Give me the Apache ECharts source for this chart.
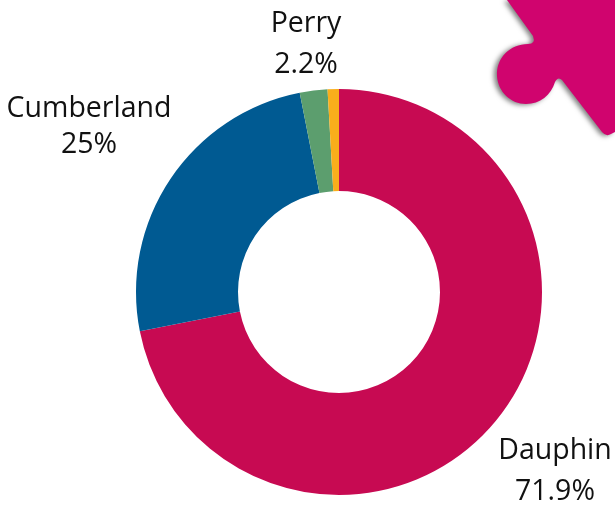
<!DOCTYPE html>
<html>
<head>
<meta charset="utf-8">
<style>
  html, body { margin: 0; padding: 0; background: #fff; }
  #chart { width: 615px; height: 506px; }
</style>
<script src="https://cdn.jsdelivr.net/npm/echarts@6/dist/echarts.min.js"></script>
</head>
<body>
<div id="chart"></div>
<script>
// clockwise from 12 o'clock
const counties = ["Dauphin", "Cumberland", "Perry", "Other"];
const shares = [71.9, 25, 2.2, 0.9];
const colors = ["#C70A52", "#005A92", "#5C9E6E", "#F9AE1B"];
const labelSpots = [[555, 471], [89, 127], [306, 44], null];
const labelLineHeights = [41, 36, 41, 41];

// corner of the puzzle piece decoration
echarts.graphic.registerShape(
  "puzzleCorner",
  echarts.graphic.extendPath(
    "M507 0 L533 36 Q536 44 528 44 C510 44 496 58 497 76 C498 92 511 104 526 104 C540 104 551 95 555 82 Q558 76 562 80 L602 132 Q606 137 611 134 L615 132 L615 0 Z"
  )
);

let myChart = echarts.init(document.getElementById("chart"));

let option = {
  animation: false,
  graphic: {
    elements: [
      {
        type: "puzzleCorner",
        z: 1,
        style: {
          fill: "#D0046E",
          shadowColor: "rgba(0,0,0,0.5)",
          shadowBlur: 5,
          shadowOffsetX: -3,
          shadowOffsetY: 1,
        },
      },
    ],
  },
  series: [
    {
      type: "pie",
      center: [339, 292],
      radius: [101, 203],
      startAngle: 90,
      clockwise: true,
      silent: true,
      z: 2,
      data: counties.map((name, i) => ({
        name: name,
        value: shares[i],
        itemStyle: { color: colors[i] },
        label: { show: labelSpots[i] !== null, lineHeight: labelLineHeights[i] },
      })),
      label: {
        show: true,
        position: "inside",
        formatter: (p) => p.name + "\n" + p.value + "%",
        fontFamily: "Open Sans",
        fontSize: 28.5,
        color: "#111",
        align: "center",
      },
      labelLine: { show: false },
      labelLayout: (p) => {
        const spot = labelSpots[p.dataIndex];
        if (!spot) return {};
        return { x: spot[0], y: spot[1], align: "center", verticalAlign: "middle" };
      },
    },
  ],
};

option && myChart.setOption(option);
</script>
</body>
</html>
